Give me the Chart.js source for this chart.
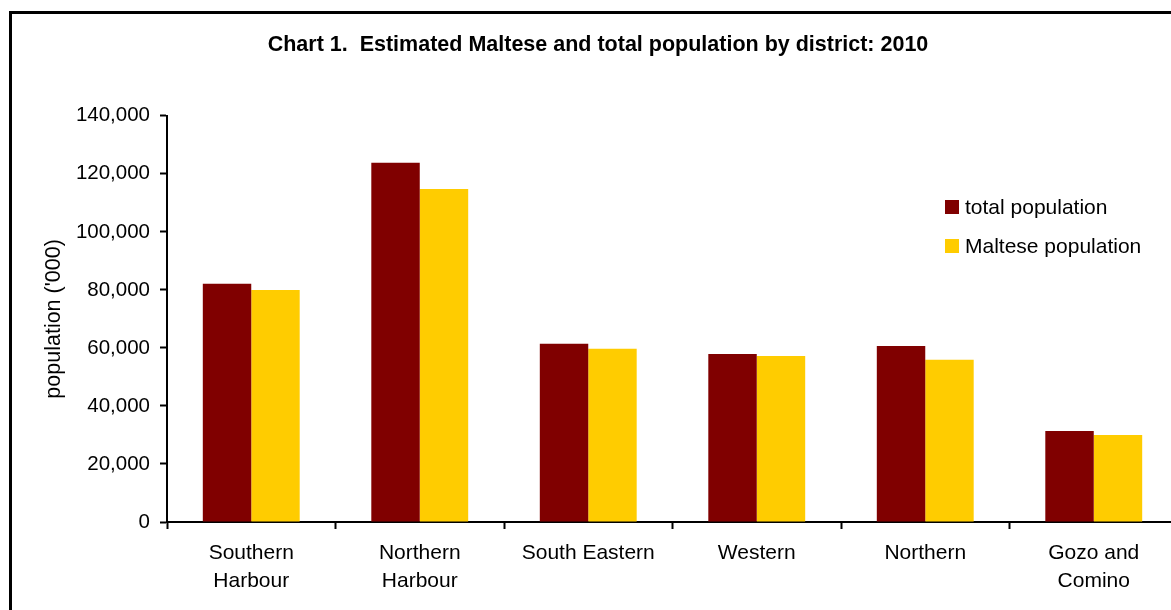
<!DOCTYPE html>
<html>
<head>
    <title>Chart 1. Estimated Maltese and total population by district: 2010</title>
    <meta charset="UTF-8">
    <script src="https://cdn.jsdelivr.net/npm/chart.js"></script>
    <style>
        body { margin: 0; overflow: hidden; background: #fff; }
        .wrap { position: absolute; left: 0; top: 0; width: 1196px; height: 610px; }
        .frame {
            position: absolute; left: 9px; top: 11px; width: 1300px; height: 700px;
            border-left: 3px solid #000; border-top: 3px solid #000;
            pointer-events: none;
        }
    </style>
</head>
<body>
    <div class="wrap">
        <canvas id="popChart" width="1196" height="610"></canvas>
        <div class="frame"></div>
    </div>
    <script>
        const districts = [
            ['Southern', 'Harbour'],
            ['Northern', 'Harbour'],
            'South Eastern',
            'Western',
            'Northern',
            ['Gozo and', 'Comino']
        ];
        const totalPopulation = [82100, 123800, 61400, 57900, 60700, 31400];
        const maltesePopulation = [80000, 114800, 59700, 57200, 55900, 30000];
        const yTicks = [0, 20000, 40000, 60000, 80000, 100000, 120000, 140000];

        const FONT = 'Arial, "Liberation Sans", sans-serif';

        // legend drawn inside the plot, top right
        const innerLegend = {
            id: 'innerLegend',
            afterDraw(chart) {
                const c = chart.ctx;
                c.save();
                c.font = '21px ' + FONT;
                c.textBaseline = 'middle';
                chart.data.datasets.forEach((ds, i) => {
                    const y = 207 + i * 39;
                    c.fillStyle = ds.backgroundColor;
                    c.fillRect(945, y - 7, 14, 14);
                    c.fillStyle = '#000';
                    c.fillText(ds.label, 965, y + 1);
                });
                c.restore();
            }
        };

        const ctx = document.getElementById('popChart').getContext('2d');
        const chart = new Chart(ctx, {
            type: 'bar',
            data: {
                labels: districts,
                datasets: [{
                    label: 'total population',
                    data: totalPopulation,
                    backgroundColor: '#800000'
                }, {
                    label: 'Maltese population',
                    data: maltesePopulation,
                    backgroundColor: '#ffcc00'
                }]
            },
            options: {
                responsive: false,
                animation: false,
                layout: { padding: { left: 18, right: 18, top: 0, bottom: 0 } },
                datasets: {
                    bar: { barPercentage: 1, categoryPercentage: 0.575 }
                },
                scales: {
                    x: {
                        grid: {
                            display: true,
                            drawOnChartArea: false,
                            offset: true,
                            tickLength: 7,
                            tickColor: '#000',
                            tickWidth: 2
                        },
                        border: { color: '#000', width: 2 },
                        ticks: {
                            color: '#000',
                            font: { family: FONT, size: 21, lineHeight: 1.33 },
                            padding: 10,
                            maxRotation: 0,
                            autoSkip: false
                        },
                        afterFit(scale) { scale.height = 88; }
                    },
                    y: {
                        min: 0,
                        max: 140000,
                        afterBuildTicks(scale) {
                            scale.ticks = yTicks.map(v => ({ value: v }));
                        },
                        grid: {
                            display: true,
                            drawOnChartArea: false,
                            tickLength: 7,
                            tickColor: '#000',
                            tickWidth: 2
                        },
                        border: { color: '#000', width: 2 },
                        ticks: {
                            color: '#000',
                            font: { family: FONT, size: 20.5 },
                            padding: 10,
                            callback: v => v.toLocaleString('en-US')
                        },
                        title: {
                            display: true,
                            text: "population ('000)",
                            color: '#000',
                            font: { family: FONT, size: 21.5 },
                            padding: { top: 23, bottom: 0 }
                        },
                        afterFit(scale) { scale.width = 149; }
                    }
                },
                plugins: {
                    legend: { display: false },
                    tooltip: { enabled: false },
                    title: {
                        display: true,
                        text: 'Chart 1.  Estimated Maltese and total population by district: 2010',
                        color: '#000',
                        font: { family: FONT, size: 21.5, weight: 'bold', lineHeight: 1.2 },
                        padding: { top: 32, bottom: 58 }
                    }
                }
            },
            plugins: [innerLegend]
        });
    </script>
</body>
</html>
